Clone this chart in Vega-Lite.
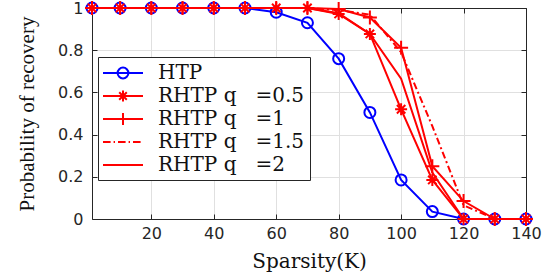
{
  "$schema": "https://vega.github.io/schema/vega-lite/v6.json",
  "width": 434,
  "height": 211,
  "autosize": {"type": "none"},
  "padding": {"left": 92, "top": 8, "right": 19, "bottom": 56},
  "background": "white",
  "config": {"view": {"stroke": null}},
  "data": {"values": [
    {"K":1,"series":"HTP","p":1},{"K":10,"series":"HTP","p":1},{"K":20,"series":"HTP","p":1},{"K":30,"series":"HTP","p":1},{"K":40,"series":"HTP","p":1},{"K":50,"series":"HTP","p":1},{"K":60,"series":"HTP","p":0.98},{"K":70,"series":"HTP","p":0.93},{"K":80,"series":"HTP","p":0.76},{"K":90,"series":"HTP","p":0.505},{"K":100,"series":"HTP","p":0.185},{"K":110,"series":"HTP","p":0.035},{"K":120,"series":"HTP","p":0},{"K":130,"series":"HTP","p":0},{"K":140,"series":"HTP","p":0},
    {"K":1,"series":"RHTP q =0.5","p":1},{"K":10,"series":"RHTP q =0.5","p":1},{"K":20,"series":"RHTP q =0.5","p":1},{"K":30,"series":"RHTP q =0.5","p":1},{"K":40,"series":"RHTP q =0.5","p":1},{"K":50,"series":"RHTP q =0.5","p":1},{"K":60,"series":"RHTP q =0.5","p":1},{"K":70,"series":"RHTP q =0.5","p":1},{"K":80,"series":"RHTP q =0.5","p":0.972},{"K":90,"series":"RHTP q =0.5","p":0.877},{"K":100,"series":"RHTP q =0.5","p":0.52},{"K":110,"series":"RHTP q =0.5","p":0.185},{"K":120,"series":"RHTP q =0.5","p":0},{"K":130,"series":"RHTP q =0.5","p":0},{"K":140,"series":"RHTP q =0.5","p":0},
    {"K":1,"series":"RHTP q =1","p":1},{"K":10,"series":"RHTP q =1","p":1},{"K":20,"series":"RHTP q =1","p":1},{"K":30,"series":"RHTP q =1","p":1},{"K":40,"series":"RHTP q =1","p":1},{"K":50,"series":"RHTP q =1","p":1},{"K":60,"series":"RHTP q =1","p":1},{"K":70,"series":"RHTP q =1","p":1},{"K":80,"series":"RHTP q =1","p":0.995},{"K":90,"series":"RHTP q =1","p":0.955},{"K":100,"series":"RHTP q =1","p":0.812},{"K":110,"series":"RHTP q =1","p":0.25},{"K":120,"series":"RHTP q =1","p":0.085},{"K":130,"series":"RHTP q =1","p":0},{"K":140,"series":"RHTP q =1","p":0},
    {"K":1,"series":"RHTP q =1.5","p":1},{"K":10,"series":"RHTP q =1.5","p":1},{"K":20,"series":"RHTP q =1.5","p":1},{"K":30,"series":"RHTP q =1.5","p":1},{"K":40,"series":"RHTP q =1.5","p":1},{"K":50,"series":"RHTP q =1.5","p":1},{"K":60,"series":"RHTP q =1.5","p":1},{"K":70,"series":"RHTP q =1.5","p":1},{"K":80,"series":"RHTP q =1.5","p":0.99},{"K":90,"series":"RHTP q =1.5","p":0.968},{"K":100,"series":"RHTP q =1.5","p":0.79},{"K":110,"series":"RHTP q =1.5","p":0.44},{"K":120,"series":"RHTP q =1.5","p":0.065},{"K":130,"series":"RHTP q =1.5","p":0},{"K":140,"series":"RHTP q =1.5","p":0},
    {"K":1,"series":"RHTP q =2","p":1},{"K":10,"series":"RHTP q =2","p":1},{"K":20,"series":"RHTP q =2","p":1},{"K":30,"series":"RHTP q =2","p":1},{"K":40,"series":"RHTP q =2","p":1},{"K":50,"series":"RHTP q =2","p":1},{"K":60,"series":"RHTP q =2","p":1},{"K":70,"series":"RHTP q =2","p":1},{"K":80,"series":"RHTP q =2","p":0.975},{"K":90,"series":"RHTP q =2","p":0.877},{"K":100,"series":"RHTP q =2","p":0.665},{"K":110,"series":"RHTP q =2","p":0.22},{"K":120,"series":"RHTP q =2","p":0},{"K":130,"series":"RHTP q =2","p":0},{"K":140,"series":"RHTP q =2","p":0}
  ]},
  "resolve": {"axis": {"x": "independent", "y": "independent"}},
  "layer": [
    {
      "transform": [{"filter": {"field": "series", "equal": "HTP"}}],
      "mark": {"type": "line", "color": "#0000ff", "strokeWidth": 2},
      "encoding": {
        "x": {"field": "K", "type": "quantitative", "scale": {"domain": [1, 140], "nice": false, "zero": false},
          "axis": {"values": [20, 40, 60, 80, 100, 120, 140], "labelFlush": false, "grid": true, "gridColor": "#e0e0e0", "domainColor": "#262626", "tickColor": "#262626", "tickSize": -5, "labelFont": "DejaVu Sans", "labelFontSize": 16, "labelColor": "#262626", "labelPadding": 11, "title": "Sparsity(K)", "titleFont": "DejaVu Serif", "titleFontSize": 20, "titleFontWeight": "normal", "titleColor": "#111111", "titlePadding": 10}},
        "y": {"field": "p", "type": "quantitative", "scale": {"domain": [0, 1], "nice": false},
          "axis": {"values": [0, 0.2, 0.4, 0.6, 0.8, 1], "labelFlush": false, "format": "~g", "grid": true, "gridColor": "#e0e0e0", "domainColor": "#262626", "tickColor": "#262626", "tickSize": -5, "labelFont": "DejaVu Sans", "labelFontSize": 16, "labelColor": "#262626", "labelPadding": 14, "title": "Probability of recovery", "titleFont": "Liberation Serif", "titleFontSize": 21, "titleFontWeight": "normal", "titleColor": "#111111", "titlePadding": 20}}
      }
    },
    {
      "transform": [{"filter": {"field": "series", "equal": "HTP"}}],
      "mark": {"type": "point", "shape": "circle", "filled": false, "color": "#0000ff", "size": 121, "strokeWidth": 2, "opacity": 1},
      "encoding": {
        "x": {"field": "K", "type": "quantitative", "axis": null},
        "y": {"field": "p", "type": "quantitative", "axis": null}
      }
    },
    {
      "transform": [{"filter": {"field": "series", "oneOf": ["RHTP q =0.5", "RHTP q =1", "RHTP q =2"]}}],
      "mark": {"type": "line", "color": "#ff0000", "strokeWidth": 2},
      "encoding": {
        "x": {"field": "K", "type": "quantitative", "axis": null},
        "y": {"field": "p", "type": "quantitative", "axis": null},
        "detail": {"field": "series", "type": "nominal"}
      }
    },
    {
      "transform": [{"filter": {"field": "series", "equal": "RHTP q =1.5"}}],
      "mark": {"type": "line", "color": "#ff0000", "strokeWidth": 2, "strokeDash": [7, 3, 2, 3]},
      "encoding": {
        "x": {"field": "K", "type": "quantitative", "axis": null},
        "y": {"field": "p", "type": "quantitative", "axis": null}
      }
    },
    {
      "transform": [{"filter": {"field": "series", "equal": "RHTP q =0.5"}}],
      "mark": {"type": "point", "shape": "M-1,0H1M0,-1V1M-0.7,-0.7L0.7,0.7M-0.7,0.7L0.7,-0.7", "filled": false, "color": "#ff0000", "size": 144, "strokeWidth": 2, "opacity": 1},
      "encoding": {
        "x": {"field": "K", "type": "quantitative", "axis": null},
        "y": {"field": "p", "type": "quantitative", "axis": null}
      }
    },
    {
      "transform": [{"filter": {"field": "series", "equal": "RHTP q =1"}}],
      "mark": {"type": "point", "shape": "M-1,0H1M0,-1V1", "filled": false, "color": "#ff0000", "size": 196, "strokeWidth": 2, "opacity": 1},
      "encoding": {
        "x": {"field": "K", "type": "quantitative", "axis": null},
        "y": {"field": "p", "type": "quantitative", "axis": null}
      }
    },
    {
      "mark": {"type": "point", "filled": false, "opacity": 0, "size": 400, "strokeWidth": 2},
      "encoding": {
        "x": {"field": "K", "type": "quantitative",
          "axis": {"orient": "top", "labels": false, "grid": false, "title": null, "values": [20, 40, 60, 80, 100, 120, 140], "domainColor": "#262626", "tickColor": "#262626", "tickSize": -5}},
        "y": {"field": "p", "type": "quantitative",
          "axis": {"orient": "right", "labels": false, "grid": false, "title": null, "values": [0, 0.2, 0.4, 0.6, 0.8, 1], "domainColor": "#262626", "tickColor": "#262626", "tickSize": -5}},
        "color": {"field": "series", "type": "nominal",
          "scale": {"domain": ["HTP", "RHTP q =0.5", "RHTP q =1", "RHTP q =1.5", "RHTP q =2"], "range": ["#0000ff", "#ff0000", "#ff0000", "#ff0000", "#ff0000"]},
          "legend": {"title": null, "orient": "none", "legendX": 6, "legendY": 49, "strokeColor": "#262626", "fillColor": "white", "padding": 5, "symbolSize": 400, "symbolStrokeWidth": 2, "symbolOpacity": 1, "symbolOffset": 9, "labelFont": "DejaVu Serif", "labelFontSize": 20, "labelColor": "#111111", "labelOffset": 24, "rowPadding": 2, "labelLimit": 300, "labelExpr": "replace(replace(datum.label, 'RHTP ', 'RHTP\u00a0'), 'q =', 'q\u00a0\u00a0\u00a0=')"}},
        "shape": {"field": "series", "type": "nominal",
          "scale": {"domain": ["HTP", "RHTP q =0.5", "RHTP q =1", "RHTP q =1.5", "RHTP q =2"],
            "range": ["M-2,0H2M-0.54,0A0.54,0.54 0 1,1 0.54,0A0.54,0.54 0 1,1 -0.54,0", "M-2,0H2M0,-0.54V0.54M-0.38,-0.38L0.38,0.38M-0.38,0.38L0.38,-0.38", "M-2,0H2M0,-0.6V0.6", "M-2,0H-1.24M-0.94,0H-0.8M-0.5,0H0.26M0.56,0H0.7M1,0H1.76", "M-2,0H2"]},
          "legend": {"title": null, "orient": "none", "legendX": 6, "legendY": 49, "strokeColor": "#262626", "fillColor": "white", "padding": 5, "symbolSize": 400, "symbolStrokeWidth": 2, "symbolOpacity": 1, "symbolOffset": 9, "labelFont": "DejaVu Serif", "labelFontSize": 20, "labelColor": "#111111", "labelOffset": 24, "rowPadding": 2, "labelLimit": 300, "labelExpr": "replace(replace(datum.label, 'RHTP ', 'RHTP\u00a0'), 'q =', 'q\u00a0\u00a0\u00a0=')"}}
      }
    }
  ]
}
